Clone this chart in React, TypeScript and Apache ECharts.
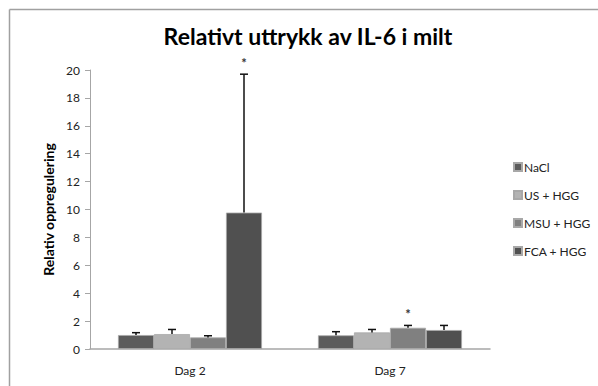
import React, { useEffect, useRef } from "react";
import * as echarts from "echarts";

const categories = ["Dag 2", "Dag 7"];
const seriesNames = ["NaCl", "US + HGG", "MSU + HGG", "FCA + HGG"];
const seriesColors = ["#5c5c5c", "#b3b3b3", "#808080", "#505050"];
const naclValues = [1.0, 0.98];
const usValues = [1.07, 1.19];
const msuValues = [0.83, 1.52];
const fcaValues = [9.78, 1.36];
const naclErr = [1.17, 1.24];
const usErr = [1.4, 1.4];
const msuErr = [0.95, 1.69];
const fcaErr = [19.7, 1.69];
const naclStar = [false, false];
const usStar = [false, false];
const msuStar = [false, true];
const fcaStar = [true, false];
const yTicks = { min: 0, max: 20, interval: 2 };

const values = [naclValues, usValues, msuValues, fcaValues];
const errs = [naclErr, usErr, msuErr, fcaErr];
const stars = [naclStar, usStar, msuStar, fcaStar];

const FONT = "Lato, 'Open Sans', sans-serif";
const BAR_W = 36;

export default function App() {
  const ref = useRef<HTMLDivElement>(null);
  useEffect(() => {
    if (!ref.current) return;
    const chart = echarts.init(ref.current, undefined, { renderer: "svg" });
    const errData: any[] = [];
    values.forEach((vals, si) => {
      vals.forEach((v, ci) => {
        errData.push([ci, v, errs[si][ci], si, stars[si][ci] ? 1 : 0]);
      });
    });
    const barSeries = seriesNames.map((name, i) => ({
      name,
      type: "bar",
      data: values[i],
      barWidth: BAR_W,
      barGap: "0%",
      itemStyle: { color: seriesColors[i], borderColor: "#a8a8a8", borderWidth: 0.8 },
    }));
    chart.setOption({
      animation: false,
      backgroundColor: "#ffffff",
      textStyle: { fontFamily: FONT },
      title: {
        text: "Relativt uttrykk av IL-6 i milt",
        left: 308,
        textAlign: "center",
        top: 24,
        padding: 0,
        textStyle: { fontSize: 23, fontWeight: "bold", color: "#000", fontFamily: FONT },
      },
      legend: {
        orient: "vertical",
        left: 513,
        top: 161,
        padding: 0,
        itemWidth: 8,
        itemHeight: 8,
        itemGap: 16,
        icon: "rect",
        data: seriesNames,
        textStyle: { fontSize: 12, color: "#222", padding: [0, 0, 0, -3] },
      },
      grid: { left: 90, right: 108, top: 70, bottom: 37 },
      xAxis: {
        type: "category",
        data: categories,
        axisLine: { lineStyle: { color: "#a6a6a6", width: 1.5 } },
        axisTick: { show: false },
        axisLabel: { fontSize: 12, color: "#222", margin: 15 },
      },
      yAxis: {
        type: "value",
        min: yTicks.min,
        max: yTicks.max,
        interval: yTicks.interval,
        name: "Relativ oppregulering",
        nameLocation: "middle",
        nameGap: 30,
        nameTextStyle: { fontSize: 14, fontWeight: "bold", color: "#000" },
        axisLine: { show: true, lineStyle: { color: "#a6a6a6" } },
        axisTick: { show: true, length: 5, lineStyle: { color: "#a6a6a6" } },
        axisLabel: { fontSize: 12, color: "#222", margin: 10 },
        splitLine: { show: false },
      },
      graphic: [
        { type: "line", shape: { x1: 9.5, y1: 9.5, x2: 598, y2: 9.5 }, style: { stroke: "#a0a0a0", lineWidth: 1.5 } },
        { type: "line", shape: { x1: 9.5, y1: 9.5, x2: 9.5, y2: 386 }, style: { stroke: "#a0a0a0", lineWidth: 1.5 } },
      ],
      series: [
        ...barSeries,
        {
          type: "custom",
          silent: true,
          z: 10,
          data: errData,
          encode: { x: 0, y: 2 },
          renderItem: (params: any, api: any) => {
            const ci = api.value(0);
            const v = api.value(1);
            const e = api.value(2);
            const si = api.value(3);
            const star = api.value(4);
            const off = (si - 1.5) * BAR_W;
            const base = api.coord([ci, v]);
            const top = api.coord([ci, e]);
            const x = base[0] + off;
            const children: any[] = [
              { type: "line", shape: { x1: x, y1: base[1], x2: x, y2: top[1] }, style: { stroke: "#111", lineWidth: 1.5 } },
              { type: "line", shape: { x1: x - 4, y1: top[1], x2: x + 4, y2: top[1] }, style: { stroke: "#111", lineWidth: 1.5 } },
            ];
            if (star) {
              children.push({
                type: "text",
                style: { text: "*", x, y: top[1] - 11, align: "center", verticalAlign: "middle", fontSize: 13, fontWeight: "bold", fill: "#333", fontFamily: FONT },
              });
            }
            return { type: "group", children };
          },
        },
      ],
    });
    return () => chart.dispose();
  }, []);
  return <div ref={ref} style={{ position: "fixed", left: 0, top: 0, width: 598, height: 386 }} />;
}
